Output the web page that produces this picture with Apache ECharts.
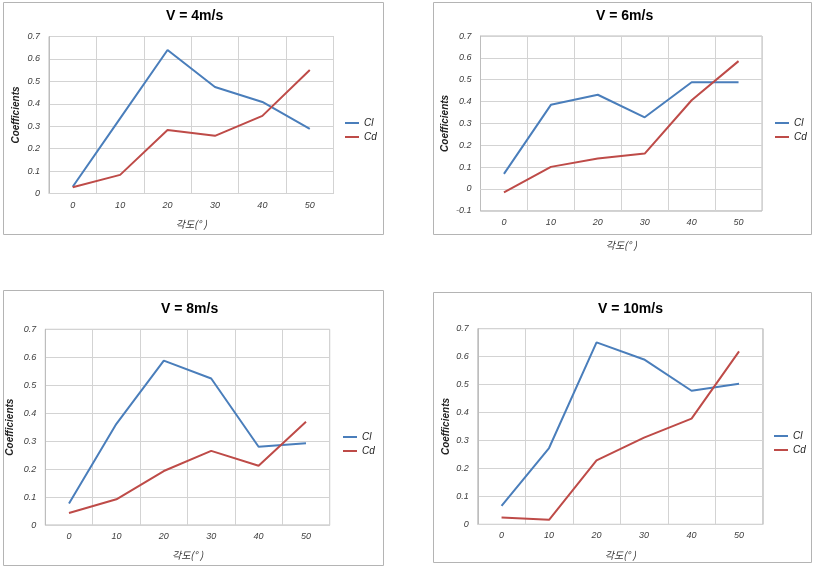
<!DOCTYPE html>
<html>
<head>
<meta charset="utf-8">
<script src="https://cdn.jsdelivr.net/npm/echarts@6/dist/echarts.min.js"></script>
<style>
html,body{margin:0;padding:0;background:#fff;}
#c{width:813px;height:567px;}
</style>
</head>
<body>
<div id="c"></div>
<script>
// ---- data ----
const categories = ['0', '10', '20', '30', '40', '50'];
const titles = ['V = 4m/s', 'V = 6m/s', 'V = 8m/s', 'V = 10m/s'];
const seriesNames = ['Cl', 'Cd'];
const xAxisName = '각도(° )';
const yAxisName = 'Coefficients';

const cl4  = [0.03, 0.335, 0.64, 0.475, 0.408, 0.288];
const cd4  = [0.028, 0.083, 0.283, 0.257, 0.346, 0.551];
const cl6  = [0.069, 0.385, 0.431, 0.328, 0.488, 0.488];
const cd6  = [-0.016, 0.101, 0.139, 0.162, 0.406, 0.585];
const cl8  = [0.077, 0.362, 0.588, 0.524, 0.28, 0.292];
const cd8  = [0.043, 0.092, 0.193, 0.265, 0.212, 0.369];
const cl10 = [0.066, 0.273, 0.651, 0.59, 0.478, 0.503];
const cd10 = [0.024, 0.016, 0.229, 0.31, 0.378, 0.619];

const yMins = [0, -0.1, 0, 0];
const yMax = 0.7;
const yStep = 0.1;

const clData = [cl4, cl6, cl8, cl10];
const cdData = [cd4, cd6, cd8, cd10];

// ---- layout (positions/styles) ----
const panels = [
  {frame:[3.5, 2.5, 380, 232],  grid:{left:49,    top:36.5,  width:284.5, height:157},   titleLeft:166, titleTop:9,   legend:{left:345, top:117}, xGap:26, yGap:28},
  {frame:[433.5, 2.5, 378, 232],grid:{left:480.5, top:36,    width:281.5, height:174.8}, titleLeft:596, titleTop:9,   legend:{left:775, top:117}, xGap:29, yGap:30},
  {frame:[3.5, 290.5, 380, 275],grid:{left:45.3,  top:329.3, width:284.4, height:195.7}, titleLeft:161, titleTop:302, legend:{left:343, top:431}, xGap:25, yGap:30},
  {frame:[433.5, 292.5, 378, 270],grid:{left:477.8, top:328.7, width:285, height:195.6}, titleLeft:598, titleTop:302, legend:{left:774, top:430}, xGap:26, yGap:27}
];

const colors = {Cl:'#4a7ebb', Cd:'#be4b48'};
const gridLineColor = '#d3d3d3';
const borderColor = '#bdbdbd';
const labelColor = '#404040';

const chart = echarts.init(document.getElementById('c'), null, {renderer:'canvas'});

const option = {
  animation:false,
  backgroundColor:'#fff',
  title:[], legend:[], grid:[], xAxis:[], yAxis:[], series:[],
  graphic:[]
};

panels.forEach((p, i) => {
  option.graphic.push({
    type:'rect', silent:true, z:-10,
    shape:{x:p.frame[0], y:p.frame[1], width:p.frame[2], height:p.frame[3]},
    style:{fill:'#fff', stroke:'#b4b4b4', lineWidth:1}
  });
  option.title.push({
    text:titles[i], left:p.titleLeft, top:p.titleTop, padding:0,
    textStyle:{fontFamily:'Liberation Sans, Arial, sans-serif', fontSize:14, fontWeight:'bold', color:'#000'}
  });
  option.legend.push({
    orient:'vertical', left:p.legend.left, top:p.legend.top, padding:0,
    icon:'rect', itemWidth:14, itemHeight:2, itemGap:2,
    data:seriesNames,
    textStyle:{fontFamily:'Liberation Sans, Arial, sans-serif', fontSize:10, fontStyle:'italic', color:'#222', lineHeight:12}
  });
  option.grid.push(Object.assign({show:true, borderColor:borderColor, borderWidth:1, backgroundColor:'transparent', containLabel:false}, p.grid));
  option.xAxis.push({
    type:'category', gridIndex:i, data:categories, boundaryGap:true,
    name:xAxisName, nameLocation:'middle', nameGap:p.xGap,
    nameTextStyle:{fontFamily:'Noto Sans CJK KR, sans-serif', fontSize:10, fontStyle:'italic', color:'#333'},
    axisLine:{show:true, onZero:true, lineStyle:{color:gridLineColor, width:1}},
    axisTick:{show:false},
    axisLabel:{fontFamily:'Liberation Sans, Arial, sans-serif', fontSize:9, fontStyle:'italic', color:labelColor, margin:7},
    splitLine:{show:true, lineStyle:{color:gridLineColor, width:1}}
  });
  option.yAxis.push({
    type:'value', gridIndex:i, min:yMins[i], max:yMax, interval:yStep,
    name:yAxisName, nameLocation:'middle', nameGap:p.yGap, nameRotate:90,
    nameTextStyle:{fontFamily:'Liberation Sans, Arial, sans-serif', fontSize:10, fontStyle:'italic', fontWeight:'bold', color:'#222'},
    axisLine:{show:true, lineStyle:{color:borderColor}},
    axisTick:{show:false},
    axisLabel:{fontFamily:'Liberation Sans, Arial, sans-serif', fontSize:9, fontStyle:'italic', color:labelColor, margin:9,
      formatter:v => String(Number(v.toFixed(1)))},
    splitLine:{show:true, lineStyle:{color:gridLineColor, width:1}}
  });
  option.series.push({
    type:'line', name:'Cl', xAxisIndex:i, yAxisIndex:i, data:clData[i],
    symbol:'none', lineStyle:{color:colors.Cl, width:2}, itemStyle:{color:colors.Cl}
  });
  option.series.push({
    type:'line', name:'Cd', xAxisIndex:i, yAxisIndex:i, data:cdData[i],
    symbol:'none', lineStyle:{color:colors.Cd, width:2}, itemStyle:{color:colors.Cd}
  });
});

chart.setOption(option);
</script>
</body>
</html>
